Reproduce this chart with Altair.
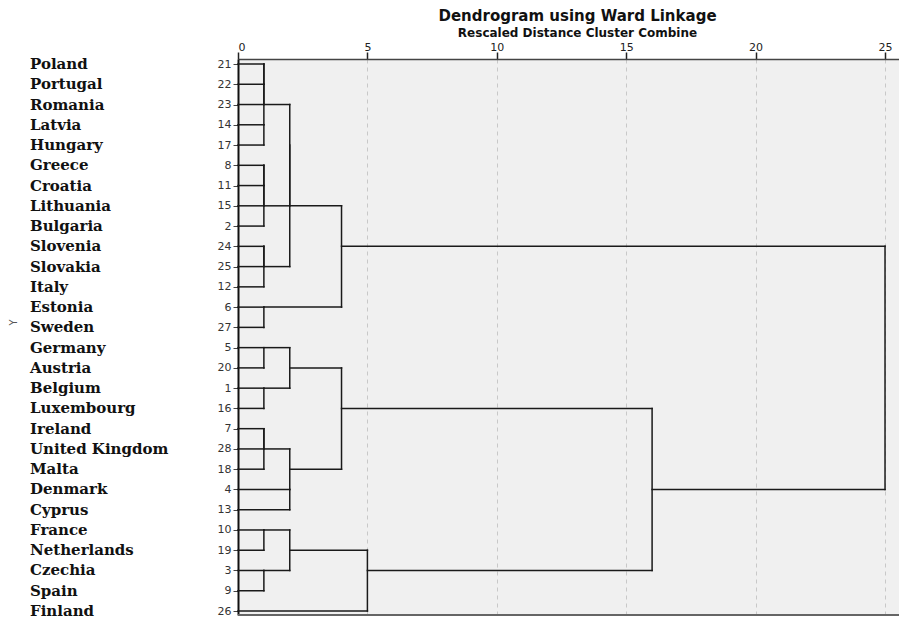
import altair as alt
import pandas as pd

# ---- data ----
countries = ["Poland", "Portugal", "Romania", "Latvia", "Hungary", "Greece", "Croatia",
             "Lithuania", "Bulgaria", "Slovenia", "Slovakia", "Italy", "Estonia", "Sweden",
             "Germany", "Austria", "Belgium", "Luxembourg", "Ireland", "United Kingdom",
             "Malta", "Denmark", "Cyprus", "France", "Netherlands", "Czechia", "Spain", "Finland"]
case_numbers = [21, 22, 23, 14, 17, 8, 11, 15, 2, 24, 25, 12, 6, 27, 5, 20, 1, 16, 7, 28,
                18, 4, 13, 10, 19, 3, 9, 26]

# agglomeration schedule: merge k joins merge_a[k] and merge_b[k] at merge_dist[k]
# (children are leaf names or earlier merges "m<k>")
merge_a = ["Poland", "m0", "Latvia", "m1", "Greece", "m4", "m5", "Slovenia", "m7", "m3",
           "m9", "Estonia", "m10", "Germany", "Belgium", "m13", "Ireland", "m16", "Denmark",
           "m17", "m15", "France", "Czechia", "m21", "m23", "m20", "m12"]
merge_b = ["Portugal", "Romania", "Hungary", "m2", "Croatia", "Lithuania", "Bulgaria",
           "Slovakia", "Italy", "m6", "m8", "Sweden", "m11", "Austria", "Luxembourg", "m14",
           "United Kingdom", "Malta", "Cyprus", "m18", "m19", "Netherlands", "Spain", "m22",
           "Finland", "m24", "m25"]
merge_dist = [1, 1, 1, 1, 1, 1, 1, 1, 1, 2, 2, 1, 4, 1, 1, 2, 1, 1, 2, 2, 4, 1, 1, 2, 5, 16, 25]

x_ticks = [0, 5, 10, 15, 20, 25]

# ---- build dendrogram segments (SPSS-style layout) ----
row = {n: i for i, n in enumerate(countries)}
start = {n: 0.0 for n in countries}
segs = []
for k, (a, b, d) in enumerate(zip(merge_a, merge_b, merge_dist)):
    ra, rb = row[a], row[b]
    for c in (a, b):
        if start[c] < d:
            segs.append(dict(x=start[c], x2=d, y=row[c], y2=row[c]))
    segs.append(dict(x=d, x2=d, y=min(ra, rb), y2=max(ra, rb)))
    key = f"m{k}"
    row[key] = (ra + rb) // 2
    start[key] = d

seg_df = pd.DataFrame(segs)
label_df = pd.DataFrame({"name": countries, "y": list(range(len(countries)))})

W, H = 661, 556
xscale = alt.Scale(domain=[0, 25.54], nice=False, zero=False)
yscale = alt.Scale(domain=[-0.247, 27.197], reverse=True, nice=False, zero=False)

case_expr = "'' + [" + ",".join(str(c) for c in case_numbers) + "][datum.value]"

yaxis = alt.Axis(values=list(range(len(countries))), labelExpr=case_expr,
                 title="Y", titleFont="DejaVu Sans", titleFontSize=10,
                 titleFontWeight="normal", titleColor="#555",
                 titleX=-220, titleY=263, titleAngle=-90,
                 grid=False, tickSize=5, tickColor="#444", tickWidth=1,
                 domainColor="#111", domainWidth=2,
                 labelFont="DejaVu Sans", labelFontSize=11, labelPadding=2,
                 labelColor="#333", labelOverlap=False)

lines = alt.Chart(seg_df).mark_rule(color="#1a1a1a", strokeWidth=1.5, strokeCap="square").encode(
    x=alt.X("x:Q", scale=xscale,
            axis=alt.Axis(orient="top", values=x_ticks, title=None, grid=True,
                          gridDash=[4, 4], gridColor="#c8c8c8", gridWidth=1,
                          tickSize=7, tickColor="#222", tickWidth=1.5,
                          domainColor="#444", domainWidth=1.5,
                          labelFont="DejaVu Sans", labelFontSize=11, labelPadding=0,
                          labelColor="#222")),
    x2="x2:Q",
    y=alt.Y("y:Q", scale=yscale, axis=yaxis),
    y2="y2:Q",
)

names = alt.Chart(label_df).mark_text(
    align="left", baseline="middle", font="DejaVu Serif", fontSize=15,
    fontWeight="bold", color="#111"
).encode(
    x=alt.value(-208),
    y=alt.Y("y:Q", scale=yscale, axis=yaxis),
    text="name:N",
)

bottom = alt.Chart(label_df).mark_rule(color="#666", strokeWidth=1.5).encode(
    y=alt.value(H), x=alt.value(0), x2=alt.value(W)
)

chart = alt.layer(lines, names, bottom).properties(
    width=W, height=H,
    autosize=alt.AutoSizeParams(type="none"),
    padding={"left": 230, "top": 51, "right": 0, "bottom": 5},
    title=alt.TitleParams(
        "Dendrogram using Ward Linkage",
        subtitle="Rescaled Distance Cluster Combine",
        font="DejaVu Sans", fontSize=15, fontWeight="bold", color="#111",
        subtitleFont="DejaVu Sans", subtitleFontSize=12, subtitleFontWeight="bold",
        subtitleColor="#111", anchor="middle", offset=2.5, subtitlePadding=4, dx=9,
    ),
).configure_view(fill="#f0f0f0", stroke=None)

chart.save("out.html", embed_options={"renderer": "svg", "actions": False})
